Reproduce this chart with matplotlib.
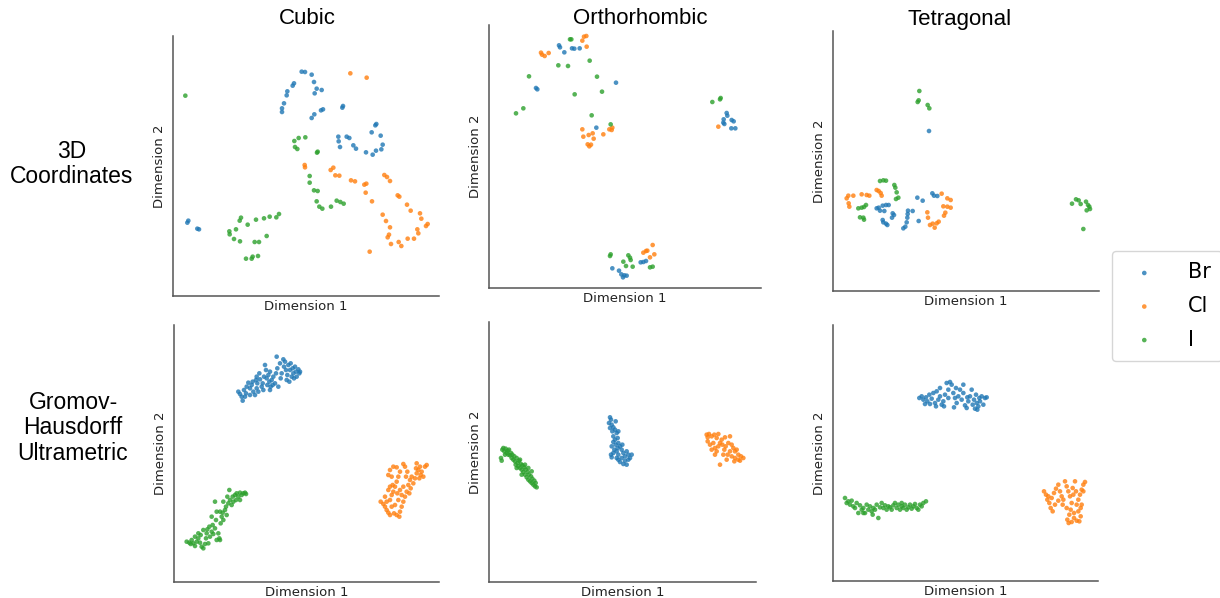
import numpy as np
import matplotlib
matplotlib.use("Agg")
import matplotlib.pyplot as plt

# Embedding coordinates (arbitrary units, Dimension 2 grows downwards)
# Row 1: 3D coordinates
cubic_3d_br = [(395, 125), (405, 126), (425, 134), (432, 156), (440, 176), (455, 180), (434, 190), (372, 160),
               (368, 167), (352, 184), (350, 196), (342, 220), (336, 235), (336, 246), (425, 264), (433, 253),
               (453, 241), (459, 238), (517, 233), (519, 228), (616, 286), (619, 282), (605, 307), (632, 317),
               (505, 320), (506, 334), (510, 351), (530, 320), (538, 324), (550, 346), (558, 356), (588, 367),
               (608, 374), (618, 362), (634, 358), (638, 344), (55, 572), (52, 578), (82, 596), (87, 598)]
cubic_3d_cl = [(541, 130), (590, 143), (404, 405), (405, 412), (482, 420), (490, 413), (496, 436), (508, 437),
               (543, 451), (555, 454), (583, 464), (589, 461), (587, 488), (606, 514), (643, 435), (651, 441),
               (660, 453), (683, 496), (688, 500), (711, 524), (722, 542), (750, 550), (754, 566), (773, 582),
               (768, 588), (742, 598), (745, 610), (732, 626), (713, 626), (686, 636), (694, 648), (663, 642),
               (657, 614), (653, 622), (660, 592), (648, 573), (638, 554), (599, 665)]
cubic_3d_i = [(46, 197), (373, 333), (386, 324), (406, 322), (375, 351), (382, 357), (441, 368), (443, 365),
              (419, 438), (419, 458), (432, 481), (443, 483), (440, 514), (448, 530), (457, 536), (483, 530),
              (500, 512), (511, 516), (521, 521), (213, 563), (209, 572), (233, 584), (258, 569), (282, 565),
              (299, 560), (319, 562), (327, 552), (198, 598), (178, 604), (179, 613), (192, 627), (210, 634),
              (254, 636), (267, 636), (290, 618), (228, 686), (245, 686), (248, 680), (264, 678)]

ortho_3d_br = [(147, 76), (150, 82), (163, 97), (186, 85), (193, 86), (209, 85), (78, 204), (82, 208),
               (318, 188), (259, 323), (650, 279), (652, 287), (641, 298), (640, 308), (643, 312), (665, 300),
               (671, 304), (664, 325), (676, 325), (307, 745), (327, 752), (334, 763), (343, 766), (350, 767),
               (339, 772), (392, 727), (400, 726), (408, 723)]
ortho_3d_cl = [(93, 98), (96, 104), (104, 108), (116, 99), (217, 62), (222, 50), (229, 48), (230, 80),
               (217, 328), (220, 350), (236, 345), (248, 340), (251, 356), (233, 373), (238, 379), (243, 374),
               (280, 343), (298, 328), (307, 323), (305, 330), (625, 320), (400, 698), (408, 693), (412, 692),
               (428, 675), (420, 712), (433, 703)]
ortho_3d_i = [(180, 58), (184, 58), (145, 136), (174, 138), (239, 122), (57, 169), (261, 170), (194, 223),
              (276, 215), (40, 265), (18, 280), (245, 286), (302, 313), (607, 246), (630, 238), (632, 234),
              (300, 708), (302, 703), (355, 706), (360, 713), (362, 720), (340, 725), (348, 738), (368, 740),
              (420, 742), (428, 740)]

tetra_3d_br = [(297, 318), (262, 518), (278, 527), (307, 505), (312, 512), (322, 513), (140, 550), (146, 548),
               (158, 542), (168, 540), (176, 540), (150, 557), (163, 558), (158, 585), (160, 592), (168, 596),
               (172, 600), (188, 565), (186, 578), (192, 570), (234, 557), (233, 567), (248, 558), (232, 578),
               (230, 592), (226, 605), (220, 610), (266, 588)]
tetra_3d_cl = [(50, 520), (55, 512), (70, 512), (95, 508), (110, 510), (118, 512), (140, 495), (146, 498),
               (152, 504), (155, 512), (56, 535), (58, 545), (335, 506), (352, 520), (362, 525), (340, 544),
               (352, 545), (362, 548), (346, 563), (342, 572), (292, 562), (294, 578), (300, 600), (308, 596),
               (314, 608), (320, 595), (326, 590)]
tetra_3d_i = [(268, 198), (266, 226), (263, 231), (293, 240), (298, 250), (150, 468), (160, 466), (168, 467),
              (193, 480), (196, 488), (200, 502), (205, 518), (198, 522), (85, 550), (95, 548), (108, 540),
              (102, 546), (90, 577), (102, 584), (100, 578), (726, 536), (738, 523), (746, 526), (752, 537),
              (768, 530), (774, 540), (778, 545), (780, 552), (770, 556), (760, 612)]

# Row 2: Gromov-Hausdorff ultrametric
cubic_gh_br = [(205, 215), (210, 222), (218, 242), (215, 230), (222, 210), (230, 200), (235, 188), (240, 205),
               (228, 220), (245, 195), (250, 215), (255, 225), (260, 205), (262, 190), (258, 180), (268, 160),
               (270, 178), (275, 200), (278, 190), (282, 170), (285, 135), (288, 150), (290, 175), (292, 195),
               (295, 165), (298, 185), (300, 155), (302, 200), (305, 180), (310, 170), (315, 190), (318, 160),
               (320, 110), (322, 145), (325, 200), (330, 130), (332, 175), (335, 160), (340, 118), (342, 140),
               (345, 125), (348, 150), (350, 180), (352, 165), (355, 135), (358, 185), (360, 150), (362, 130),
               (365, 170), (368, 145), (370, 160), (372, 175), (375, 140), (378, 155), (380, 170), (385, 148),
               (388, 160), (390, 155), (225, 230), (240, 225), (265, 215), (280, 210), (300, 210), (308, 195),
               (260, 170), (248, 185)]
cubic_gh_cl = [(632, 545), (640, 552), (645, 560), (650, 570), (655, 578), (660, 585), (672, 580), (680, 585),
               (688, 590), (690, 575), (695, 560), (700, 545), (705, 530), (710, 515), (715, 495), (708, 470),
               (712, 455), (705, 440), (700, 432), (690, 455), (685, 470), (680, 485), (675, 500), (670, 515),
               (665, 525), (660, 540), (655, 510), (668, 495), (690, 510), (695, 525), (685, 540), (675, 555),
               (665, 560), (670, 440), (660, 450), (655, 465), (665, 470), (680, 442), (720, 480), (725, 470),
               (730, 490), (735, 475), (740, 460), (745, 450), (740, 430), (750, 440), (755, 455), (760, 470),
               (765, 440), (770, 435), (752, 465), (748, 475), (738, 445), (722, 505), (718, 520), (700, 500),
               (682, 520), (660, 500), (645, 530), (650, 545)]
cubic_gh_i = [(50, 665), (58, 668), (65, 660), (70, 670), (75, 678), (80, 665), (85, 655), (90, 668),
              (95, 680), (100, 685), (105, 672), (108, 655), (110, 640), (112, 628), (118, 620), (120, 650),
              (125, 635), (128, 615), (130, 642), (135, 625), (138, 600), (140, 660), (145, 640), (148, 655),
              (150, 660), (152, 610), (155, 590), (158, 578), (160, 600), (165, 570), (168, 560), (170, 585),
              (175, 550), (178, 510), (180, 540), (185, 555), (188, 530), (190, 545), (195, 525), (198, 540),
              (200, 520), (205, 530), (210, 518), (215, 525), (220, 520), (225, 518), (228, 522), (135, 545),
              (140, 575), (115, 670), (92, 645), (100, 630), (85, 640), (75, 650), (125, 590), (150, 575),
              (160, 545), (172, 530), (210, 540), (62, 672)]

ortho_gh_br = [(375, 298), (378, 305), (372, 315), (380, 320), (385, 328), (375, 330), (390, 335), (382, 340),
               (395, 345), (385, 355), (390, 365), (398, 360), (400, 375), (392, 380), (380, 385), (405, 385),
               (410, 395), (395, 400), (385, 405), (378, 410), (400, 410), (415, 405), (420, 415), (425, 400),
               (430, 410), (440, 410), (410, 420), (395, 420), (420, 428), (430, 425), (405, 432), (415, 438),
               (425, 440), (400, 425), (388, 395), (412, 380), (398, 390), (380, 418), (435, 420), (392, 310),
               (400, 340), (385, 372)]
ortho_gh_cl = [(665, 350), (668, 358), (672, 348), (680, 355), (688, 350), (695, 360), (700, 348), (710, 365),
               (720, 358), (735, 355), (668, 370), (675, 380), (685, 375), (690, 390), (695, 400), (700, 385),
               (705, 375), (712, 380), (718, 395), (722, 385), (730, 375), (740, 380), (745, 390), (750, 400),
               (735, 400), (728, 410), (740, 415), (750, 420), (760, 410), (768, 415), (775, 420), (765, 428),
               (748, 430), (715, 410), (690, 410), (705, 440), (680, 395), (725, 425), (755, 395), (760, 425)]
ortho_gh_i = [(48, 420), (50, 428), (52, 395), (55, 390), (58, 400), (62, 392), (65, 405), (68, 398),
              (70, 410), (72, 395), (75, 412), (78, 405), (80, 420), (82, 410), (85, 425), (88, 415),
              (90, 430), (92, 440), (95, 420), (98, 435), (100, 445), (102, 428), (105, 450), (108, 438),
              (110, 455), (112, 442), (115, 462), (118, 448), (120, 470), (122, 455), (125, 478), (128, 462),
              (130, 485), (132, 470), (135, 490), (138, 475), (140, 495), (142, 482), (145, 500), (148, 488),
              (150, 505), (152, 495), (155, 508), (120, 440), (130, 450), (110, 470), (140, 460), (60, 410),
              (95, 450), (105, 425)]

tetra_gh_br = [(268, 240), (275, 235), (280, 245), (288, 238), (292, 250), (298, 230), (305, 242), (310, 225),
               (315, 255), (320, 220), (325, 245), (330, 235), (335, 260), (340, 250), (345, 230), (350, 195),
               (355, 215), (360, 192), (365, 200), (370, 225), (375, 240), (378, 210), (380, 255), (385, 235),
               (390, 215), (395, 245), (400, 225), (405, 262), (410, 270), (415, 250), (420, 235), (425, 215),
               (428, 260), (432, 245), (435, 272), (438, 230), (440, 255), (445, 265), (448, 240), (450, 250),
               (455, 235), (460, 260), (465, 240), (470, 238), (372, 268), (342, 265), (318, 265), (300, 258),
               (285, 258), (330, 210), (355, 240), (412, 238), (442, 275), (400, 200)]
tetra_gh_cl = [(642, 520), (648, 530), (652, 545), (658, 555), (662, 570), (668, 580), (655, 535), (665, 540),
               (672, 525), (678, 512), (685, 500), (690, 520), (695, 535), (700, 545), (705, 490), (710, 505),
               (715, 520), (720, 535), (725, 555), (722, 575), (718, 590), (712, 605), (716, 615), (725, 612),
               (732, 600), (740, 608), (748, 610), (752, 595), (745, 580), (740, 560), (745, 545), (750, 530),
               (755, 515), (760, 500), (765, 492), (735, 490), (728, 510), (738, 520), (752, 570), (698, 560),
               (685, 548), (675, 560), (710, 570), (730, 530), (760, 520), (755, 560), (732, 585)]
tetra_gh_i = [(45, 540), (50, 555), (55, 550), (60, 560), (65, 548), (70, 565), (75, 570), (80, 555),
              (85, 585), (90, 562), (95, 575), (100, 570), (105, 585), (110, 560), (115, 575), (120, 565),
              (125, 580), (130, 570), (135, 575), (140, 560), (145, 600), (150, 568), (155, 555), (160, 570),
              (165, 562), (170, 575), (175, 565), (180, 568), (185, 575), (190, 562), (195, 555), (200, 570),
              (205, 560), (210, 575), (215, 565), (220, 570), (225, 560), (230, 575), (235, 568), (240, 560),
              (245, 572), (250, 565), (255, 558), (260, 570), (265, 575), (270, 560), (275, 565), (280, 555),
              (288, 550), (100, 585), (128, 590), (215, 555)]

labels = ["Br", "Cl", "I"]
colors = ["#1f77b4", "#ff7f0e", "#2ca02c"]
col_titles = ["Cubic", "Orthorhombic", "Tetragonal"]
row_titles = ["3D\nCoordinates", "Gromov-\nHausdorff\nUltrametric"]

panels = [
    [cubic_3d_br, cubic_3d_cl, cubic_3d_i],
    [ortho_3d_br, ortho_3d_cl, ortho_3d_i],
    [tetra_3d_br, tetra_3d_cl, tetra_3d_i],
    [cubic_gh_br, cubic_gh_cl, cubic_gh_i],
    [ortho_gh_br, ortho_gh_cl, ortho_gh_i],
    [tetra_gh_br, tetra_gh_cl, tetra_gh_i],
]

W, H = 1220, 598
# axes boxes in pixels: left, right, top, bottom
boxes = [(173, 439, 36, 296), (489, 761, 25, 288), (833, 1099, 31, 291),
         (174, 439, 325, 582), (489, 756, 322, 582), (833, 1098, 325, 581)]
# axis limits for each panel: (x0, x1, y_bottom, y_top)
limits = [(9, 807, 798, 18), (-63, 753, 804, 15), (9, 807, 798, 18),
          (12, 807, 786, 15), (12, 813, 792, 12), (9, 804, 789, 21)]

fig = plt.figure(figsize=(W / 100, H / 100), dpi=100)

handles = []
for k, (groups, box, lim) in enumerate(zip(panels, boxes, limits)):
    l, r, t, b = box
    ax = fig.add_axes([l / W, 1 - b / H, (r - l) / W, (b - t) / H])
    for pts, c, lab in zip(groups, colors, labels):
        arr = np.array(pts)
        sc = ax.scatter(arr[:, 0], arr[:, 1], s=11, color=c, alpha=0.8,
                        edgecolors="none", label=lab)
        if k == 0:
            handles.append(sc)
    ax.set_xlim(lim[0], lim[1])
    ax.set_ylim(lim[2], lim[3])
    ax.set_xticks([])
    ax.set_yticks([])
    for side in ["top", "right"]:
        ax.spines[side].set_visible(False)
    for side in ["left", "bottom"]:
        ax.spines[side].set_color("#555555")
        ax.spines[side].set_linewidth(1.1)
    ax.set_xlabel("Dimension 1", fontsize=9.5, color="#222222", labelpad=3)
    ax.set_ylabel("Dimension 2", fontsize=9.5, color="#222222", labelpad=5)

title_x = [307, 640, 960]
for x, txt in zip(title_x, col_titles):
    fig.text(x / W, 1 - 19 / H, txt, ha="center", va="center",
             fontsize=16, family="Liberation Sans")

fig.text(72 / W, 1 - 164 / H, row_titles[0], ha="center", va="center",
         fontsize=16.5, family="Liberation Sans", linespacing=1.12)
fig.text(73 / W, 1 - 428 / H, row_titles[1], ha="center", va="center",
         fontsize=16.5, family="Liberation Sans", linespacing=1.12)

fig.legend(handles, labels, loc="upper left", bbox_to_anchor=(1112 / W, 1 - 251 / H),
           fontsize=15, markerscale=1.0, frameon=True, borderpad=0.55, borderaxespad=0,
           handletextpad=1.1, labelspacing=0.65, fancybox=True, edgecolor="#cccccc")

fig.savefig("out.png", dpi=100)
